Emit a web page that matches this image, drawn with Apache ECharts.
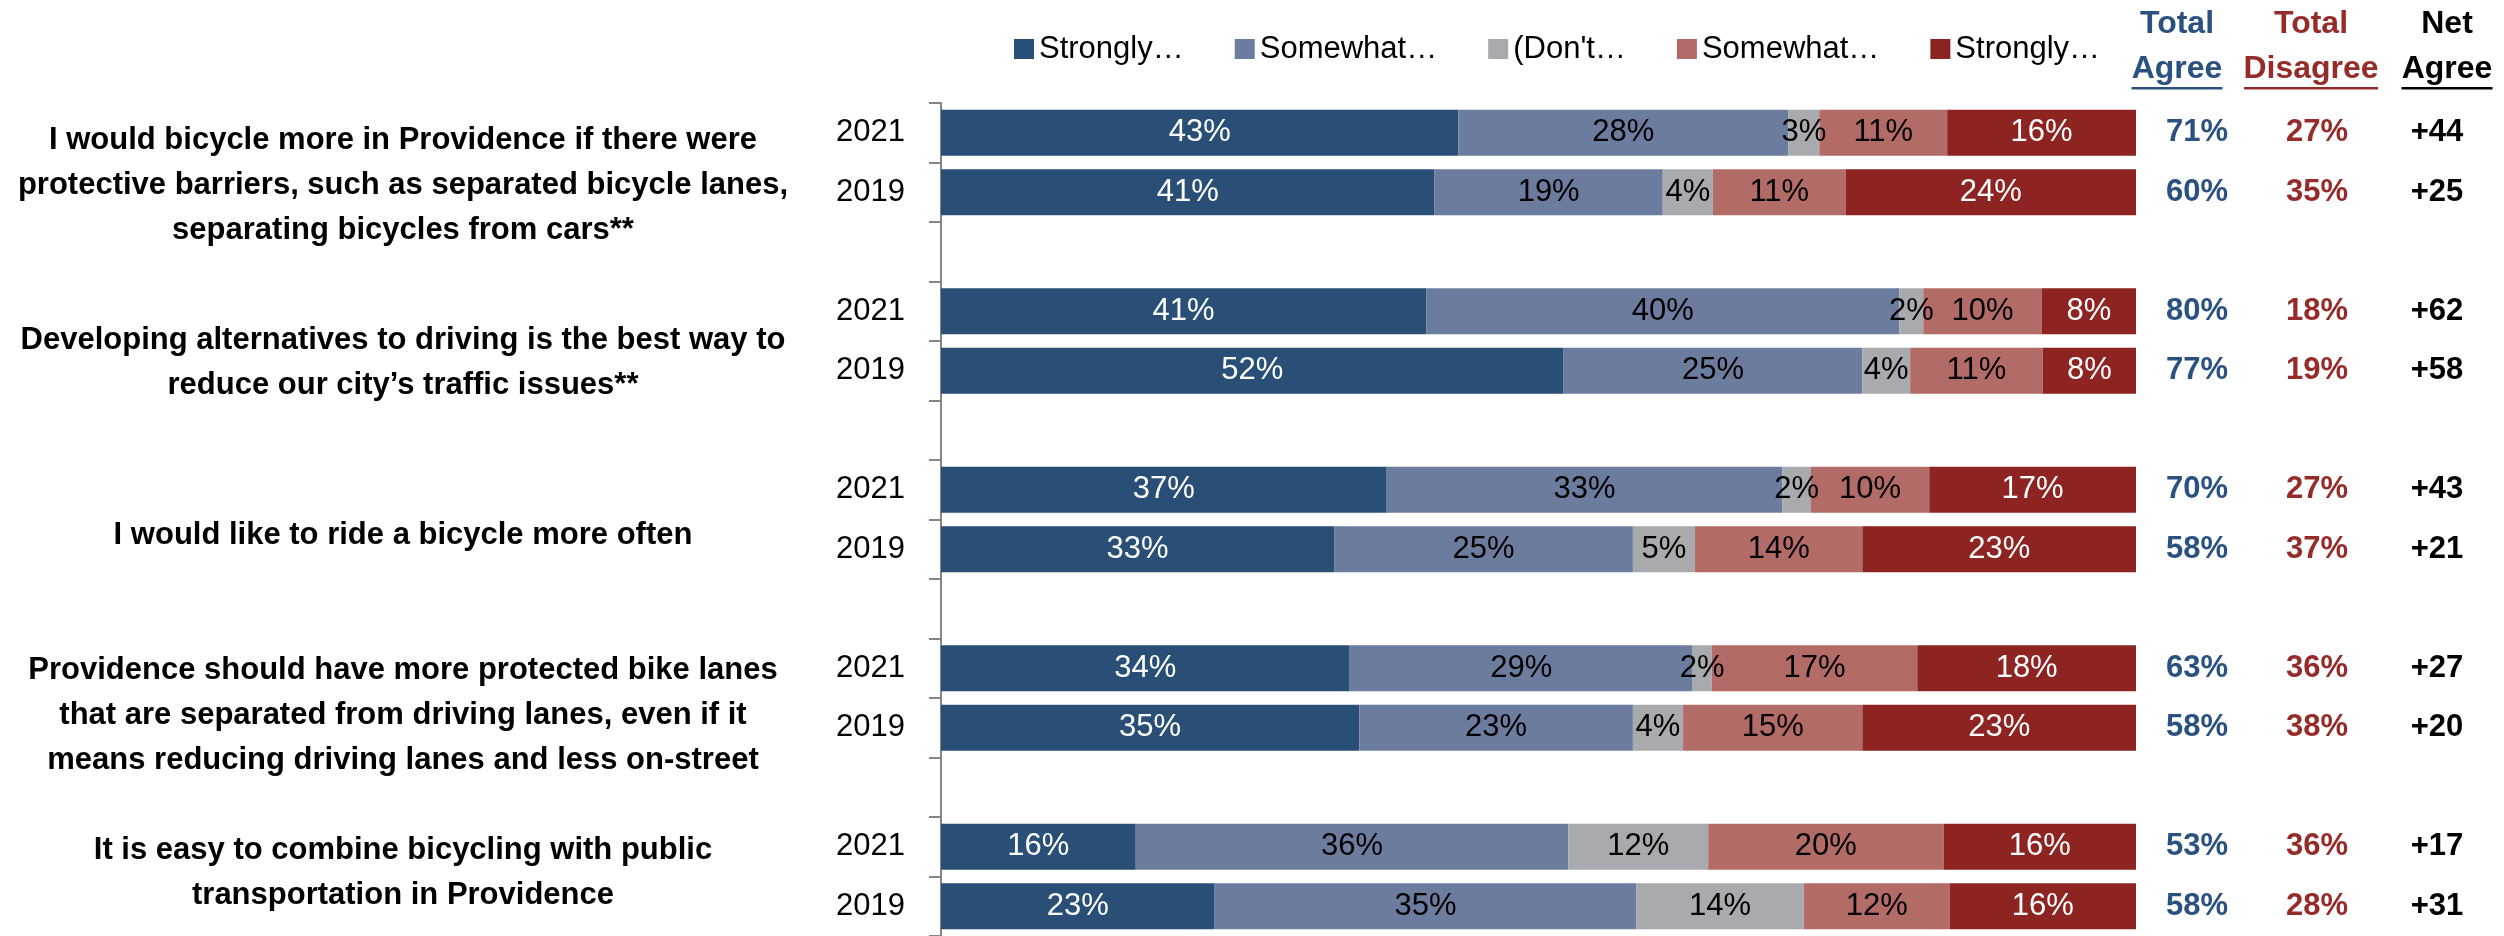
<!DOCTYPE html>
<html>
<head>
<meta charset="utf-8">
<script src="https://cdn.jsdelivr.net/npm/echarts@6/dist/echarts.min.js"></script>
<style>
html, body { margin: 0; padding: 0; background: #fff; overflow: hidden; }
#chart { width: 2504px; height: 936px; }
</style>
</head>
<body>
<div id="chart"></div>
<script>
// one row per bar, empty rows are the gaps between questions
const years = ['2021', '2019', '', '2021', '2019', '', '2021', '2019', '', '2021', '2019', '', '2021', '2019'];
const questions = [
  'I would bicycle more in Providence if there were\nprotective barriers, such as separated bicycle lanes,\nseparating bicycles from cars**',
  'Developing alternatives to driving is the best way to\nreduce our city\u2019s traffic issues**',
  'I would like to ride a bicycle more often',
  'Providence should have more protected bike lanes\nthat are separated from driving lanes, even if it\nmeans reducing driving lanes and less on-street',
  'It is easy to combine bicycling with public\ntransportation in Providence'
];
const seriesNames = ['Strongly agree', 'Somewhat agree', "(Don't know)", 'Somewhat disagree', 'Strongly disagree'];

// shares in %
const stronglyAgree    = [43.3, 41.3, null, 40.6, 52.1, null, 37.3, 32.9, null, 34.2, 35.0, null, 16.3, 22.9];
const somewhatAgree    = [27.6, 19.1, null, 39.6, 25.0, null, 33.1, 25.0, null, 28.7, 22.9, null, 36.2, 35.3];
const dontKnow         = [2.6, 4.2, null, 2.0, 4.0, null, 2.4, 5.2, null, 1.6, 4.2, null, 11.7, 14.0];
const somewhatDisagree = [10.7, 11.1, null, 9.9, 11.1, null, 9.9, 14.0, null, 17.2, 15.0, null, 19.7, 12.2];
const stronglyDisagree = [15.8, 24.3, null, 7.9, 7.8, null, 17.3, 22.9, null, 18.3, 22.9, null, 16.1, 15.6];

// summary columns on the right
const totalAgree    = [71, 60, null, 80, 77, null, 70, 58, null, 63, 58, null, 53, 58];
const totalDisagree = [27, 35, null, 18, 19, null, 27, 37, null, 36, 38, null, 36, 28];
const netAgree      = [44, 25, null, 62, 58, null, 43, 21, null, 27, 20, null, 17, 31];

const FONT = "'Liberation Sans', Arial, sans-serif";
const colors = ['#2A4F77', '#6C7C9F', '#A9AAAE', '#B36B67', '#8E2421'];
const labelColors = ['#fff', '#000', '#000', '#000', '#fff'];
const blueTxt = '#2B5180';
const redTxt = '#962C2A';

// vertical centre of each question text block
const questionY = [185, 363, 535, 715, 873];

const chart = echarts.init(document.getElementById('chart'));

const values = [stronglyAgree, somewhatAgree, dontKnow, somewhatDisagree, stronglyDisagree];
const series = values.map(function (data, i) {
  return {
    name: seriesNames[i],
    type: 'bar',
    stack: 'all',
    barWidth: 46,
    data: data,
    itemStyle: { color: colors[i] },
    label: {
      show: true,
      position: 'inside',
      fontFamily: FONT,
      fontSize: 31,
      color: labelColors[i],
      formatter: function (p) { return Math.round(p.value) + '%'; }
    },
    emphasis: { disabled: true }
  };
});

const graphic = [];
questions.forEach(function (q, i) {
  graphic.push({
    type: 'text', x: 403, y: questionY[i],
    style: {
      text: q, fontFamily: FONT, fontSize: 31, fontWeight: 'bold', fill: '#000',
      textAlign: 'center', textVerticalAlign: 'middle', lineHeight: 45
    }
  });
});
// column headers
const heads = [
  { x: 2177, l1: 'Total', l2: 'Agree', c: blueTxt, w: 91 },
  { x: 2311, l1: 'Total', l2: 'Disagree', c: redTxt, w: 134 },
  { x: 2447, l1: 'Net', l2: 'Agree', c: '#000', w: 91 }
];
heads.forEach(function (h) {
  graphic.push({
    type: 'text', x: h.x, y: 24,
    style: { text: h.l1, fontFamily: FONT, fontSize: 32, fontWeight: 'bold', fill: h.c, textAlign: 'center', textVerticalAlign: 'middle' }
  });
  graphic.push({
    type: 'text', x: h.x, y: 69,
    style: { text: h.l2, fontFamily: FONT, fontSize: 32, fontWeight: 'bold', fill: h.c, textAlign: 'center', textVerticalAlign: 'middle' }
  });
  graphic.push({
    type: 'rect', shape: { x: h.x - h.w / 2, y: 87, width: h.w, height: 2.5 },
    style: { fill: h.c }
  });
});

const option = {
  backgroundColor: '#fff',
  animation: false,
  legend: {
    left: 1009,
    top: 28,
    icon: 'rect',
    itemWidth: 20,
    itemHeight: 20,
    itemGap: 51,
    data: seriesNames,
    textStyle: { fontFamily: FONT, fontSize: 31, color: '#000', lineHeight: 32 },
    formatter: function (name) { return name.split(' ')[0] + '\u2026'; }
  },
  grid: { left: 941, right: 368, top: 103, bottom: -4, containLabel: false },
  xAxis: { type: 'value', min: 0, max: 100, show: false },
  yAxis: [
    {
      type: 'category',
      inverse: true,
      data: years,
      axisLine: { show: true, lineStyle: { color: '#868686', width: 2 } },
      axisTick: { show: true, length: 12, interval: 0, lineStyle: { color: '#868686', width: 2 } },
      axisLabel: { interval: 0, margin: 36, fontFamily: FONT, fontSize: 31, color: '#000' }
    },
    {
      type: 'category',
      inverse: true,
      position: 'right',
      data: years,
      axisLine: { show: false },
      axisTick: { show: false },
      axisLabel: {
        interval: 0,
        margin: 1,
        align: 'left',
        formatter: function (v, i) {
          if (totalAgree[i] == null) return '';
          return '{a|' + totalAgree[i] + '%}{b|' + totalDisagree[i] + '%}{c|+' + netAgree[i] + '}';
        },
        rich: {
          a: { width: 120, align: 'center', fontFamily: FONT, fontSize: 31, fontWeight: 'bold', color: blueTxt },
          b: { width: 120, align: 'center', fontFamily: FONT, fontSize: 31, fontWeight: 'bold', color: redTxt },
          c: { width: 120, align: 'center', fontFamily: FONT, fontSize: 31, fontWeight: 'bold', color: '#000' }
        }
      }
    }
  ],
  graphic: graphic,
  series: series
};

chart.setOption(option);
</script>
</body>
</html>
